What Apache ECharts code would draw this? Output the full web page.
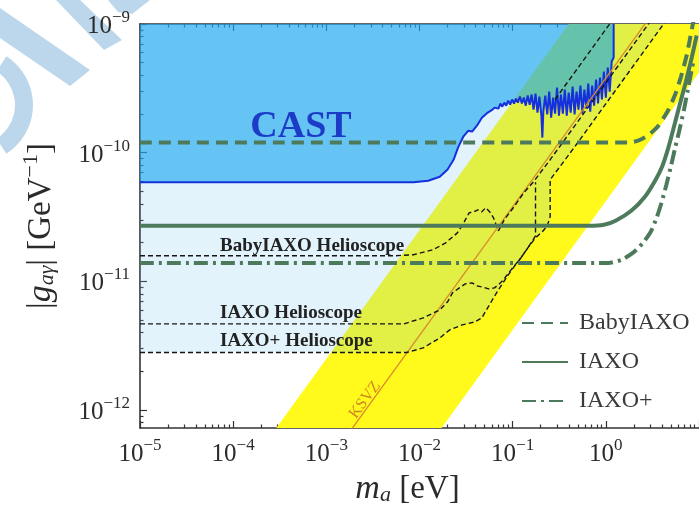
<!DOCTYPE html>
<html><head><meta charset="utf-8">
<script src="https://cdn.jsdelivr.net/npm/echarts@6.0.0/dist/echarts.min.js"></script>
<style>html,body{margin:0;padding:0;background:#fff;} #chart{width:699px;height:512px;}</style>
</head><body><div id="chart"></div>
<script>
// ---------------- data (axion mass m_a in eV, coupling |g_aγ| in GeV^-1) ----------------
const massRange = [1e-5, 10];
const couplingRange = [7.25e-13, 1e-9];
const xDecades = [-5, -4, -3, -2, -1, 0];
const yDecades = [-12, -11, -10, -9];

// CAST exclusion boundary
const castMass = [1e-5, 8.6e-3, 0.0124, 0.0165, 0.020, 0.0232, 0.0261, 0.0295, 0.0333, 0.0367, 0.0413, 0.0467, 0.054, 0.0608,
  0.0638,0.0670,0.0703,0.0738,0.0774,0.0813,0.0853,0.0895,0.0939,0.0986,0.1034,0.1085,0.1139,0.1196,0.1255,0.1317,0.1382,0.1450,0.1522,0.1597,0.1676,0.1759,0.1846,0.1937,0.2033,
  0.2083,0.2133,
  0.2239,0.2349,0.2466,0.2588,0.2716,0.2850,0.2991,0.3139,0.3295,0.3457,0.3628,0.3808,0.3996,0.4194,0.4401,0.4619,0.4847,0.5087,0.5339,0.5603,0.5880,0.6171,0.6476,0.6796,0.7132,0.7485,0.7855,0.8244,0.8651,0.9080,0.9528,1.000,1.049,1.101,1.156,
  1.184,1.213,1.213];
const castCoupling = [5.9e-11,5.9e-11,6.05e-11,6.5e-11,7.4e-11,8.8e-11,1.11e-10,1.33e-10,1.48e-10,1.46e-10,1.62e-10,1.87e-10,2.05e-10,2.16e-10,
  2.24e-10,2.32e-10,2.20e-10,2.41e-10,2.28e-10,2.45e-10,2.32e-10,2.54e-10,2.36e-10,2.59e-10,2.41e-10,2.63e-10,2.45e-10,2.73e-10,2.41e-10,2.68e-10,2.32e-10,2.78e-10,2.36e-10,2.83e-10,2.16e-10,2.88e-10,2.05e-10,2.73e-10,1.94e-10,
  1.31e-10,2.08e-10,
  2.78e-10,1.98e-10,2.98e-10,1.87e-10,2.68e-10,2.01e-10,3.20e-10,1.94e-10,2.83e-10,2.01e-10,3.09e-10,1.94e-10,2.93e-10,2.05e-10,3.26e-10,1.98e-10,2.98e-10,2.16e-10,3.32e-10,2.01e-10,3.09e-10,2.20e-10,3.44e-10,2.08e-10,3.32e-10,2.32e-10,3.70e-10,2.41e-10,3.84e-10,2.59e-10,4.27e-10,2.68e-10,4.59e-10,2.98e-10,5.11e-10,
  5.29e-10,5.49e-10,1.0e-9];

// QCD axion band edges and KSVZ line
const bandMass = [1e-4, 10];
const bandUpper = [2.5e-13, 2.5e-8];
const bandLower = [4.2e-15, 4.2e-10];
const ksvzMass = [1e-4, 10];
const ksvzCoupling = [3.8e-14, 3.8e-9];

// Projected sensitivities (green)
const babyMass = [1e-5, 1.742, 2.218, 2.823, 3.594, 4.571, 5.55, 6.41, 7.41, 8.36, 8.77];
const babyCoupling = [1.20e-10, 1.20e-10, 1.24e-10, 1.36e-10, 1.59e-10, 2.08e-10, 2.83e-10, 3.90e-10, 5.79e-10, 9.06e-10, 1.08e-9];
const iaxoMass = [1e-5, 0.664, 0.953, 1.273, 1.874, 2.627, 3.426, 4.056, 4.69, 5.42, 6.26, 7.24, 8.36, 9.44];
const iaxoCoupling = [2.70e-11, 2.70e-11, 2.75e-11, 2.96e-11, 3.54e-11, 4.55e-11, 6.17e-11, 7.92e-11, 1.094e-10, 1.62e-10, 2.41e-10, 3.57e-10, 5.49e-10, 8.14e-10];
const iaxoPlusMass = [1e-5, 1.075, 1.472, 1.966, 2.502, 3.035, 3.509, 3.958, 4.466, 5.04, 5.55, 6.11, 6.90, 7.78, 8.77];
const iaxoPlusCoupling = [1.39e-11, 1.39e-11, 1.47e-11, 1.67e-11, 1.99e-11, 2.43e-11, 3.12e-11, 4.08e-11, 5.64e-11, 8.06e-11, 1.094e-10, 1.457e-10, 2.16e-10, 3.38e-10, 5.29e-10];

// Helioscope (black dashed)
const babyHelioMass = [1e-5, 5.31e-3, 8.61e-3, 0.01395, 0.0191, 0.0255, 0.0302, 0.0341, 0.0385, 0.0423, 0.0466, 0.0514, 0.0566, 0.0623, 0.0670, 0.0703, 0.0813, 0.1034, 0.1317, 0.1676, 0.1984, 0.2527, 3.0];
const babyHelioCoupling = [1.58e-11, 1.58e-11, 1.61e-11, 1.76e-11, 1.99e-11, 2.38e-11, 2.90e-11, 3.41e-11, 3.47e-11, 3.60e-11, 3.47e-11, 3.73e-11, 3.47e-11, 3.12e-11, 2.70e-11, 2.47e-11, 3.01e-11, 3.80e-11, 4.88e-11, 5.94e-11, 6.99e-11, 8.82e-11, 1.047e-9];
const iaxoHelioMass = [1e-5, 6.76e-3, 0.01096, 0.01652, 0.02004, 0.0226, 0.02677, 0.03095, 0.03664, 0.04135, 0.0466, 0.0552, 0.0638, 0.0720, 0.0793, 0.0962, 0.1225, 0.1485, 0.1759, 0.1759];
const iaxoHelioCoupling = [4.67e-12, 4.67e-12, 5.20e-12, 6.00e-12, 6.93e-12, 8.14e-12, 8.90e-12, 9.56e-12, 9.73e-12, 9.22e-12, 9.06e-12, 8.74e-12, 8.90e-12, 9.56e-12, 1.027e-11, 1.229e-11, 1.52e-11, 1.86e-11, 2.26e-11, 5.9e-11];
const iaxoPlusHelioMass = [1e-5, 7.27e-3, 0.01096, 0.01652, 0.02103, 0.02877, 0.03938, 0.0466, 0.0539, 0.0623, 0.0703, 0.0813, 0.0962, 0.1225, 0.1485, 0.1759, 0.2083, 0.2349, 0.2527, 0.2527, 0.4401, 4.4];
const iaxoPlusHelioCoupling = [2.80e-12, 2.80e-12, 3.04e-12, 3.63e-12, 4.19e-12, 4.59e-12, 4.84e-12, 5.20e-12, 6.22e-12, 7.44e-12, 8.59e-12, 1.009e-11, 1.21e-11, 1.52e-11, 1.86e-11, 2.18e-11, 2.43e-11, 2.70e-11, 3.18e-11, 6.17e-11, 1.055e-10, 1.055e-9];
const extraMass = [0.285, 1.10];
const extraCoupling = [2.59e-10, 1.0e-9];

// ---------------- chart ----------------
const FONT = "'Liberation Serif', 'DejaVu Serif', serif";
const TXT = '#2b2b2b';
const L = v => Math.log10(v);
const pairs = (ms, gs) => ms.map((m, i) => [L(m), L(gs[i])]);
const xMin = L(massRange[0]), xMax = L(massRange[1]);
const yMin = L(couplingRange[0]), yMax = L(couplingRange[1]);
const minorOf = decs => { const out = []; decs.forEach(n => { for (let k = 2; k <= 9; k++) out.push(n + Math.log10(k)); }); return out; };
const xMajor = [-5, -4, -3, -2, -1, 0, 1];
const xMinor = minorOf([-5, -4, -3, -2, -1, 0]);
const yMajor = [-12, -11, -10, -9];
const yMinor = minorOf([-13, -12, -11, -10]);

const powLabel = v => { const e = Math.round(v); return '{b|10}{s|' + (e < 0 ? '\u2212' : '') + Math.abs(e) + '}'; };
const powRich = {
  b: { fontFamily: FONT, fontSize: 25, color: TXT, lineHeight: 30, verticalAlign: 'bottom' },
  s: { fontFamily: FONT, fontSize: 17, color: TXT, lineHeight: 13, verticalAlign: 'top' }
};
const axisLineStyle = { color: '#333', width: 1.6 };
const tickStyle = { color: '#333', width: 1.2 };

function xAx(pos, ticks, len, showLine, labels) {
  return {
    type: 'value', min: xMin, max: xMax, position: pos, gridIndex: 0,
    axisLine: { show: showLine, onZero: false, lineStyle: axisLineStyle },
    axisTick: { show: true, inside: true, length: len, customValues: ticks, lineStyle: tickStyle },
    axisLabel: labels ? { show: true, customValues: xDecades, formatter: powLabel, rich: powRich, margin: 9 } : { show: false },
    splitLine: { show: false }
  };
}
function yAx(pos, ticks, len, showLine, labels) {
  return {
    type: 'value', min: yMin, max: yMax, position: pos, gridIndex: 0,
    axisLine: { show: showLine, onZero: false, lineStyle: axisLineStyle },
    axisTick: { show: true, inside: true, length: len, customValues: ticks, lineStyle: tickStyle },
    axisLabel: labels ? { show: true, customValues: yDecades, formatter: powLabel, rich: powRich, margin: 10 } : { show: false },
    splitLine: { show: false }
  };
}

const xAxes = [xAx('bottom', xMajor, 7, true, true), xAx('bottom', xMinor, 3.5, false, false),
               xAx('top', xMajor, 7, true, false), xAx('top', xMinor, 3.5, false, false)];
xAxes[0].name = '{i|m}{sub|a}{n| [eV]}';
xAxes[0].nameLocation = 'middle';
xAxes[0].nameGap = 38;
xAxes[0].nameTextStyle = { fontFamily: FONT, fontSize: 33, color: TXT, padding: [0, 24, 0, 0], rich: {
  i: { fontFamily: FONT, fontSize: 34, fontStyle: 'italic', color: TXT, lineHeight: 38, verticalAlign: 'bottom' },
  sub: { fontFamily: FONT, fontSize: 22, fontStyle: 'italic', color: TXT, lineHeight: 18, verticalAlign: 'bottom' },
  n: { fontFamily: FONT, fontSize: 33, color: TXT, lineHeight: 38, verticalAlign: 'bottom' } } };

const yAxes = [yAx('left', yMajor, 7, true, true), yAx('left', yMinor, 3.5, false, false)];
yAxes[0].name = '{n||}{i|g}{sub|a\u03b3}{n|| [GeV}{sup|\u22121}{n|]}';
yAxes[0].nameLocation = 'middle';
yAxes[0].nameRotate = 90;
yAxes[0].nameGap = 82;
yAxes[0].nameTextStyle = { fontFamily: FONT, fontSize: 33, color: TXT, rich: {
  i: { fontFamily: FONT, fontSize: 34, fontStyle: 'italic', color: TXT, lineHeight: 38, verticalAlign: 'bottom' },
  sub: { fontFamily: FONT, fontSize: 22, fontStyle: 'italic', color: TXT, lineHeight: 18, verticalAlign: 'bottom' },
  sup: { fontFamily: FONT, fontSize: 22, color: TXT, lineHeight: 19, verticalAlign: 'top' },
  n: { fontFamily: FONT, fontSize: 33, color: TXT, lineHeight: 38, verticalAlign: 'bottom' } } };

const GREEN = '#4e7a5c';
const base = { type: 'line', xAxisIndex: 0, yAxisIndex: 0, symbol: 'none', showSymbol: false, silent: true, animation: false, clip: true };
const dashed = (name, ms, gs) => Object.assign({}, base, { name, data: pairs(ms, gs),
  lineStyle: { color: '#151515', width: 1.4, type: [5, 3] } });

const series = [
  {
    type: 'custom', name: 'QCD band', xAxisIndex: 0, yAxisIndex: 0, silent: true, animation: false, clip: true,
    data: [[-2, -10.5]],
    renderItem: function (params, api) {
      const pts = [];
      for (let i = 0; i < bandMass.length; i++) pts.push(api.coord([L(bandMass[i]), L(bandUpper[i])]));
      for (let i = bandMass.length - 1; i >= 0; i--) pts.push(api.coord([L(bandMass[i]), L(bandLower[i])]));
      return { type: 'polygon', shape: { points: pts }, style: { fill: '#fffa1c' } };
    }
  },
  Object.assign({}, base, { name: 'helioFill', data: pairs(iaxoPlusHelioMass, iaxoPlusHelioCoupling), lineStyle: { width: 0, opacity: 0 },
    areaStyle: { origin: 'end', color: 'rgba(110,195,235,0.2)', opacity: 1 } }),
  Object.assign({}, base, { name: 'CAST', data: pairs(castMass, castCoupling), lineStyle: { color: '#1530dc', width: 2 },
    areaStyle: { origin: 'end', color: 'rgba(20,165,240,0.6)', opacity: 1 } }),
  Object.assign({}, base, { name: 'KSVZ', data: pairs(ksvzMass, ksvzCoupling), lineStyle: { color: '#d98a2a', width: 1.3 } }),
  dashed('extra', extraMass, extraCoupling),
  dashed('BabyIAXO Helioscope', babyHelioMass, babyHelioCoupling),
  dashed('IAXO Helioscope', iaxoHelioMass, iaxoHelioCoupling),
  dashed('IAXO+ Helioscope', iaxoPlusHelioMass, iaxoPlusHelioCoupling),
  Object.assign({}, base, { name: 'BabyIAXO', data: pairs(babyMass, babyCoupling), smooth: 0.2, color: GREEN,
    lineStyle: { color: GREEN, width: 4, type: [12, 7] } }),
  Object.assign({}, base, { name: 'IAXO', data: pairs(iaxoMass, iaxoCoupling), smooth: 0.2, color: GREEN,
    lineStyle: { color: GREEN, width: 4, type: 'solid' } }),
  Object.assign({}, base, { name: 'IAXO+', data: pairs(iaxoPlusMass, iaxoPlusCoupling), smooth: 0.2, color: GREEN,
    lineStyle: { color: GREEN, width: 4, type: [14, 5, 3, 5] } })
];

const WM = '#bcd7ec';
const option = {
  backgroundColor: '#ffffff',
  animation: false,
  grid: { left: 140, top: 24, width: 572, height: 404, containLabel: false },
  xAxis: xAxes,
  yAxis: yAxes,
  legend: {
    data: ['BabyIAXO', 'IAXO', 'IAXO+'], orient: 'vertical', left: 516, top: 306,
    itemWidth: 46, itemHeight: 20, itemGap: 15, selectedMode: false,
    itemStyle: { opacity: 0 },
    textStyle: { fontFamily: FONT, fontSize: 24, color: '#3a3a3a', padding: [0, 0, 0, 6] }
  },
  series: series,
  graphic: [
    { type: 'polygon', z: 0, silent: true, shape: { points: [[56, 0], [80, 0], [122, 40], [104, 50]] }, style: { fill: WM } },
    { type: 'polygon', z: 0, silent: true, shape: { points: [[0, 8], [0, 38], [70, 86], [90, 70]] }, style: { fill: WM } },
    { type: 'polygon', z: 0, silent: true, shape: { points: [[108, 0], [150, 0], [132, 14], [118, 12]] }, style: { fill: WM } },
    { type: 'sector', z: 0, silent: true, shape: { cx: -25, cy: 105, r: 58, r0: 40, startAngle: -1.0, endAngle: 1.0 }, style: { fill: WM } },
    { type: 'text', z: 100, silent: true, x: 301, y: 127, style: { text: 'CAST', fontFamily: FONT, fontSize: 38, fontWeight: 'bold', fill: '#1c3cc8', align: 'center', verticalAlign: 'middle' } },
    { type: 'text', z: 100, silent: true, x: 220, y: 246, style: { text: 'BabyIAXO Helioscope', fontFamily: FONT, fontSize: 19, fontWeight: 'bold', fill: '#222', align: 'left', verticalAlign: 'middle' } },
    { type: 'text', z: 100, silent: true, x: 220, y: 313, style: { text: 'IAXO Helioscope', fontFamily: FONT, fontSize: 19, fontWeight: 'bold', fill: '#222', align: 'left', verticalAlign: 'middle' } },
    { type: 'text', z: 100, silent: true, x: 220, y: 341, style: { text: 'IAXO+ Helioscope', fontFamily: FONT, fontSize: 19, fontWeight: 'bold', fill: '#222', align: 'left', verticalAlign: 'middle' } },
    { type: 'text', z: 100, silent: true, x: 365, y: 400, rotation: 0.93, style: { text: 'KSVZ', fontFamily: FONT, fontSize: 16, fill: '#d08624', align: 'center', verticalAlign: 'middle' } }
  ]
};
const chart = echarts.init(document.getElementById('chart'), null, { renderer: 'canvas' });
chart.setOption(option);
</script></body></html>
